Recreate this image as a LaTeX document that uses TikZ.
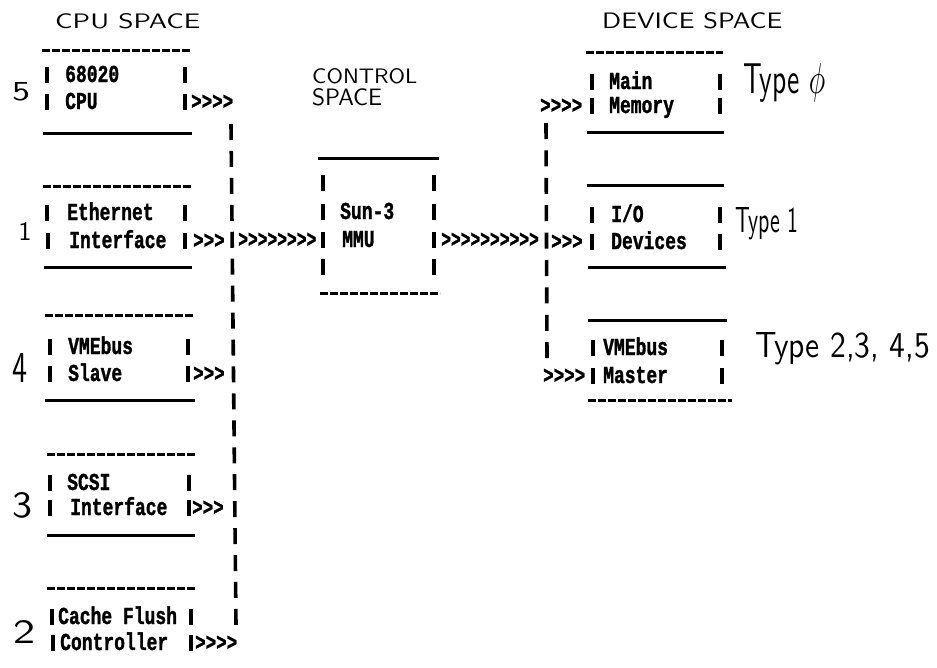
\documentclass[tikz,border=0pt]{standalone}
\usepackage{fontspec}
\usepackage{graphicx}
\newfontfamily\ttb{Liberation Mono Bold}[FakeBold=1.6]
\newcommand\tw[1]{\scalebox{1}[1.35]{#1}}
\newcommand\twn[2]{\scalebox{#1}[1.35]{#2}}
\newcommand\hwr[3]{\resizebox{#1}{#2}{#3}}
\begin{document}
\begin{tikzpicture}[x=1pt,y=-1pt,
  tt/.style={font=\ttb\fontsize{18}{18}\selectfont, inner sep=0pt, anchor=west, text height=14pt, text depth=0pt},
  arw/.style={font=\ttb\fontsize{17.5}{17.5}\selectfont, inner sep=0pt, anchor=west, text height=14pt, text depth=0pt},
  hw/.style={font=\sffamily, inner sep=0pt, anchor=base west},
  bar/.style={line width=3.6pt},
  rule/.style={line width=3pt},
  drule/.style={line width=3pt, dash pattern=on 8pt off 2pt},
  lbus/.style={line width=3.6pt, dash pattern=on 16pt off 10.94pt},
  rbus/.style={line width=3.6pt, dash pattern=on 16pt off 11.4pt}]
\useasboundingbox[fill=white] (0,0) rectangle (937,667);

% ---------- headings (handwritten) ----------
\node[hw] (hcpu) at (55,28) {\hwr{145pt}{15pt}{CPU SPACE}};
\node[hw] (hctl1) at (312,83) {\hwr{105pt}{15pt}{CONTROL}};
\node[hw] (hctl2) at (312,105) {\hwr{70pt}{17pt}{SPACE}};
\node[hw] (hdev) at (602,28) {\hwr{180pt}{16pt}{DEVICE SPACE}};

% ---------- handwritten numbers and types ----------
\node[hw] (d5) at (12,100) {\hwr{18pt}{18pt}{5}};
\node[hw, anchor=base] (d1) at (25,240) {\hwr{!}{18pt}{1}};
\node[hw] (d4) at (12,382) {\hwr{15pt}{29pt}{4}};
\node[hw] (d3) at (12,517) {\hwr{20pt}{25pt}{3}};
\node[hw] (d2) at (13,643) {\hwr{22pt}{23pt}{2}};
\node[hw] (ty0) at (743,93) {\hwr{82pt}{30pt}{Type $\phi$}};
\node[hw] (ty1) at (735,232) {\hwr{63pt}{25pt}{Type 1}};
\node[hw] (ty2) at (755,357) {\hwr{175pt}{25pt}{Type 2,3, 4,5}};

% ---------- box rules ----------
% CPU space
\draw[drule] (42,50) -- (191,50);   \draw[rule] (43,133) -- (192,133);
\draw[drule] (43,186) -- (192,186); \draw[rule] (44,267) -- (192,267);
\draw[drule] (45,315) -- (194,315); \draw[rule] (45,400) -- (195,400);
\draw[drule] (47,454) -- (195,454); \draw[rule] (47,535) -- (195,535);
\draw[drule] (47,588) -- (195,588);
% control space
\draw[rule] (318,158) -- (439,158); \draw[drule] (320,293) -- (440,293);
% device space
\draw[drule] (586,52) -- (723,52);  \draw[rule] (587,132) -- (724,132);
\draw[rule] (587,185) -- (724,185); \draw[rule] (588,267) -- (726,267);
\draw[rule] (588,320) -- (727,320); \draw[drule] (588,400) -- (732,400);

% ---------- box side bars ----------
\foreach \x/\y in {47/75,47/102,185/75,185/102,
                   47/213,48/241,185/213,185/241,
                   50/347,50/374,188/347,188/374,
                   50/483,50/508,189/483,189/508,
                   52/617,53/643,191/617,191/643,
                   323/183,323/212,323/240,323/267,434/183,434/212,434/240,434/267,
                   592/82,592/106,720/82,720/106,
                   592/215,592/242,720/215,720/242,
                   593/348,593/376,722/348,722/376}
  \draw[bar] (\x,\y-8) -- (\x,\y+8);

% ---------- box texts ----------
\node[tt] (cpu1) at (65,75) {\tw{68020}};
\node[tt] (cpu2) at (65,102) {\tw{CPU}};
\node[tt] (eth1) at (67,213) {\tw{Ethernet}};
\node[tt] (eth2) at (69,241) {\tw{Interface}};
\node[tt] (sl1) at (68,347) {\tw{VMEbus}};
\node[tt] (sl2) at (68,374) {\tw{Slave}};
\node[tt] (sc1) at (67,483) {\tw{SCSI}};
\node[tt] (sc2) at (70,508) {\tw{Interface}};
\node[tt] (cf1) at (58,617) {\tw{Cache Flush}};
\node[tt] (cf2) at (60,643) {\tw{Controller}};
\node[tt] (mmu1) at (340,212) {\tw{Sun-3}};
\node[tt] (mmu2) at (342,240) {\tw{MMU}};
\node[tt] (mm1) at (609,82) {\tw{Main}};
\node[tt] (mm2) at (609,106) {\tw{Memory}};
\node[tt] (io1) at (611,215) {\tw{I/O}};
\node[tt] (io2) at (611,242) {\tw{Devices}};
\node[tt] (vm1) at (603,348) {\tw{VMEbus}};
\node[tt] (vm2) at (603,376) {\tw{Master}};

% ---------- buses ----------
\coordinate (lbt) at (231,124); \coordinate (lbb) at (236,625);
\coordinate (rbt) at (546,123); \coordinate (rbb) at (547,358);
\draw[lbus] (lbt) -- (lbb);
\draw[rbus] (rbt) -- (rbb);

% ---------- arrow strings ----------
\node[arw] (a1) at (191,102) {\tw{>>>>}};
\node[arw] (a2) at (193,241) {\tw{>>>}};
\node[arw] (a3) at (193,374) {\tw{>>>}};
\node[arw] (a4) at (192,508) {\tw{>>>}};
\node[arw] (a5) at (195,643) {\tw{>>>>}};
\node[arw] (a6) at (238,240) {\twn{0.93}{>>>>>>>>}};
\node[arw] (a7) at (441,240) {\twn{0.93}{>>>>>>>>>>}};
\node[arw] (a8) at (551,242) {\tw{>>>}};
\node[arw] (a9) at (540,106) {\tw{>>>>}};
\node[arw] (a10) at (543,376) {\tw{>>>>}};
\end{tikzpicture}
\end{document}
